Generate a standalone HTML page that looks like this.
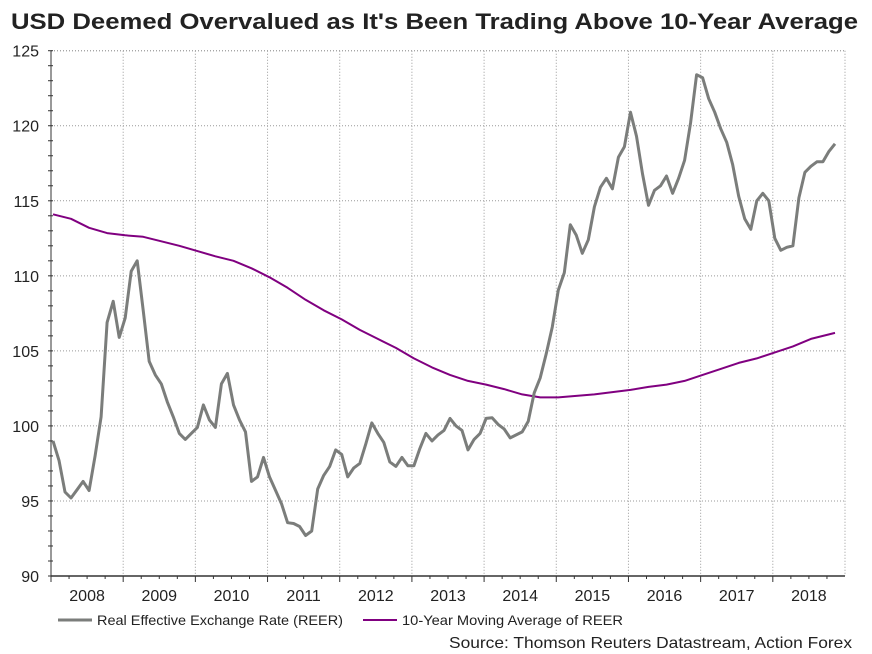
<!DOCTYPE html>
<html><head><meta charset="utf-8">
<style>
body{margin:0;background:#fff;}
svg{display:block;font-family:"Liberation Sans",Arial,sans-serif;}
</style></head>
<body>
<svg id="chart" width="872" height="654" viewBox="0 0 872 654" xmlns="http://www.w3.org/2000/svg">
<text x="11" y="29" font-size="22" font-weight="bold" fill="#222" textLength="847" lengthAdjust="spacingAndGlyphs">USD Deemed Overvalued as It's Been Trading Above 10-Year Average</text>
<g id="grid"></g>
<g id="axes"></g>
<g id="series"></g>
<g>
<line x1="58" y1="620" x2="92" y2="620" stroke="#7b7d7b" stroke-width="3"/>
<text x="97" y="625" font-size="14" fill="#222" textLength="246" lengthAdjust="spacingAndGlyphs">Real Effective Exchange Rate (REER)</text>
<line x1="363" y1="620" x2="397" y2="620" stroke="#800080" stroke-width="2"/>
<text x="402" y="625" font-size="14" fill="#222" textLength="221" lengthAdjust="spacingAndGlyphs">10-Year Moving Average of REER</text>
</g>
<text x="449" y="648" font-size="16" fill="#222" textLength="403" lengthAdjust="spacingAndGlyphs">Source: Thomson Reuters Datastream, Action Forex</text>
</svg>
<script>
const years = ["2008","2009","2010","2011","2012","2013","2014","2015","2016","2017","2018"];
const yTicks = [90,95,100,105,110,115,120,125];
const reer = [99.0,97.7,95.6,95.2,95.75,96.3,95.7,98.0,100.6,106.9,
108.3,105.9,107.2,110.3,111.0,107.7,104.3,103.4,102.8,101.6,
100.6,99.5,99.1,99.5,99.9,101.4,100.4,99.9,102.8,103.5,
101.4,100.4,99.6,96.3,96.6,97.9,96.6,95.7,94.8,93.55,
93.5,93.3,92.7,93.0,95.8,96.7,97.3,98.4,98.1,96.6,
97.2,97.5,98.8,100.2,99.5,98.9,97.6,97.3,97.9,97.35,
97.35,98.5,99.5,99.0,99.4,99.7,100.5,100.0,99.7,98.4,
99.1,99.5,100.5,100.55,100.1,99.8,99.2,99.4,99.6,100.3,
102.2,103.2,104.8,106.6,109.05,110.2,113.4,112.7,111.5,112.4,
114.6,115.9,116.5,115.8,117.9,118.6,120.9,119.3,116.8,114.7,
115.7,116.0,116.65,115.5,116.5,117.7,120.2,123.4,123.2,121.8,
120.9,119.8,118.9,117.4,115.3,113.8,113.1,115.0,115.5,115.0,
112.5,111.7,111.9,112.0,115.2,116.9,117.3,117.6,117.6,118.3,118.8];
const maMonths = [0,3,6,9,12,15,18,21,24,27,30,33,36,39,42,45,48,51,54,57,60,63,66,69,72,75,78,81,84,87,90,93,96,99,102,105,108,111,114,117,120,123,126,129,130];
const maValues = [114.1,113.8,113.2,112.85,112.7,112.6,112.3,112.0,111.65,111.3,111.0,110.5,109.9,109.2,108.4,107.7,107.1,106.4,105.8,105.2,104.5,103.9,103.4,103.0,102.75,102.45,102.1,101.9,101.9,102.0,102.1,102.25,102.4,102.6,102.75,103.0,103.4,103.8,104.2,104.5,104.9,105.3,105.8,106.1,106.2];

const NS="http://www.w3.org/2000/svg";
const L=51,R=845,T=50.7,B=576,YMIN=90,YMAX=125;
const yearW=(R-L)/11;
function xMonth(i){return L+2+i*yearW/12;}
function yVal(v){return B-(v-YMIN)*(B-T)/(YMAX-YMIN);}
function mk(tag,attrs,parent){const e=document.createElementNS(NS,tag);for(const k in attrs)e.setAttribute(k,attrs[k]);parent.appendChild(e);return e;}
const grid=document.getElementById('grid'),axes=document.getElementById('axes'),series=document.getElementById('series');

yTicks.forEach(v=>{
  const y=yVal(v);
  if(v>YMIN){const g=mk('line',{x1:L,x2:R,y1:y,y2:y,stroke:'#999','stroke-width':1,'stroke-dasharray':'1,2'},grid);
  
  }
  const t=mk('text',{x:39,y:y+6,'text-anchor':'end','font-size':16,fill:'#222'},axes);
  t.textContent=v;
  
  
});
for(let v=YMIN;v<=YMAX;v++){mk('line',{x1:L-3,x2:L+2,y1:yVal(v),y2:yVal(v),stroke:'#333','stroke-width':1},axes);}
years.forEach((yr,k)=>{
  const x0=L+k*yearW;
  if(k>0){const g=mk('line',{x1:x0,x2:x0,y1:T,y2:B,stroke:'#999','stroke-width':1,'stroke-dasharray':'1,2'},grid);
  
  }
  const t=mk('text',{x:x0+yearW/2,y:601,'text-anchor':'middle','font-size':16,fill:'#222'},axes);
  t.textContent=yr;
  
  
  for(let q=0;q<4;q++){const xx=x0+q*yearW/4;mk('line',{x1:xx,x2:xx,y1:B,y2:B+(q==0?6:3),stroke:'#333','stroke-width':1},axes);}
});
mk('line',{x1:L,x2:R,y1:T,y2:T,stroke:'#999','stroke-width':1,'stroke-dasharray':'1,2'},grid);
mk('line',{x1:R,x2:R,y1:T,y2:B,stroke:'#999','stroke-width':1,'stroke-dasharray':'1,2'},grid);
const ya=mk('line',{x1:L,x2:L,y1:T,y2:B,stroke:'#333','stroke-width':1},axes);


const xa=mk('line',{x1:L,x2:R,y1:B,y2:B,stroke:'#333','stroke-width':1.5},axes);



const maPts=maValues.map((v,i)=>xMonth(maMonths[i]).toFixed(1)+','+yVal(v).toFixed(1)).join(' ');
const ma=mk('polyline',{points:maPts,fill:'none',stroke:'#800080','stroke-width':2,'stroke-linejoin':'round'},series);


const rPts=reer.map((v,i)=>xMonth(i).toFixed(1)+','+yVal(v).toFixed(1)).join(' ');
const rl=mk('polyline',{points:rPts,fill:'none',stroke:'#7b7d7b','stroke-width':3,'stroke-linejoin':'round'},series);


</script>
</body></html>
